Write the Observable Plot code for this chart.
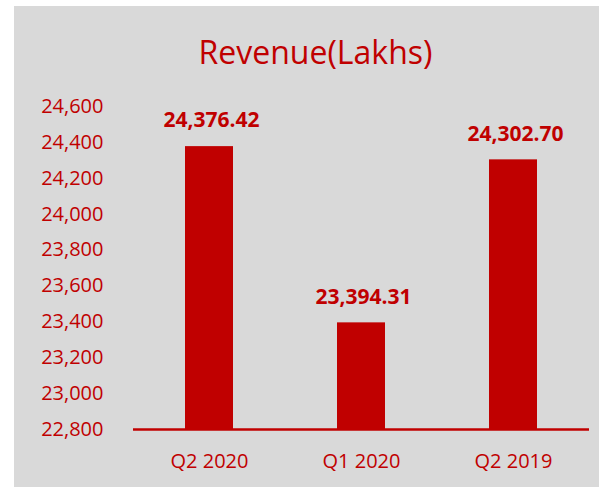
<!DOCTYPE html>
<html>
<head>
<meta charset="utf-8">
<script src="https://cdn.jsdelivr.net/npm/d3@7"></script>
<script src="https://cdn.jsdelivr.net/npm/@observablehq/plot@0.6"></script>
<style>
  html, body { margin: 0; padding: 0; background: #ffffff; }
  #panel {
    position: absolute; left: 14px; top: 6px; width: 585px; height: 481px;
    background: #d9d9d9; overflow: hidden;
  }
  #title {
    height: 76px; box-sizing: border-box; padding-top: 24px; padding-left: 18px;
    text-align: center; font-family: "Open Sans", sans-serif; font-size: 32px;
    line-height: 44px; color: #c00000; white-space: nowrap;
  }
  #chart svg { display: block; }
</style>
</head>
<body>
<div id="panel">
  <div id="title">Revenue(Lakhs)</div>
  <div id="chart"></div>
</div>
<script>
const categories = ["Q2 2020", "Q1 2020", "Q2 2019"];
const revenue = [24376.42, 23394.31, 24302.70];
const yTicks = [22800, 23000, 23200, 23400, 23600, 23800, 24000, 24200, 24400, 24600];

const red = "#c00000";
const data = categories.map((c, i) => ({quarter: c, value: revenue[i]}));

const chart = Plot.plot({
  width: 585,
  height: 405,
  marginLeft: 119,
  marginRight: 10,
  marginTop: 24,
  marginBottom: 58,
  style: {background: "transparent", color: red, fontFamily: "Open Sans, sans-serif"},
  x: {domain: categories, paddingInner: 0.684, paddingOuter: 0.342},
  y: {domain: [22800, 24600], ticks: yTicks},
  marks: [
    Plot.barY(data, {x: "quarter", y1: 22800, y2: "value", fill: red}),
    Plot.ruleY([22800], {stroke: red, strokeWidth: 2.5}),
    Plot.text(data, {
      x: "quarter", y: "value", text: d => d3.format(",.2f")(d.value),
      dy: -26, dx: 2, fontSize: 21, fontWeight: "bold", fill: red
    }),
    Plot.axisY({ticks: yTicks, tickFormat: d3.format(","), tickSize: 0, tickPadding: 30,
      fontSize: 20, label: null, fill: red}),
    Plot.axisX({tickSize: 0, tickPadding: 24, fontSize: 20, label: null, fill: red})
  ]
});
document.getElementById("chart").appendChild(chart);
</script>
</body>
</html>
